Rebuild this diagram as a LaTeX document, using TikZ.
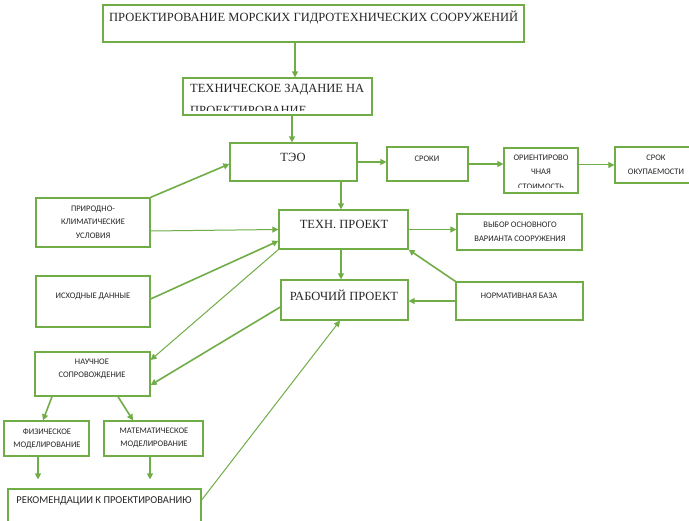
\documentclass[tikz,border=0pt]{standalone}
\usepackage{fontspec}
\setmainfont{Liberation Serif}
\newfontfamily\smallsans{Carlito}
\usetikzlibrary{arrows.meta,calc}
\definecolor{gr}{HTML}{70AD47}
\begin{document}
\begin{tikzpicture}[x=1pt,y=-1pt,
  box/.style={draw=gr, line width=1.3pt, fill=white, inner sep=0pt},
  arr/.style={draw=gr, line width=1.6pt, -{Triangle[length=6pt,width=6pt]}},
  thinarr/.style={arr, line width=1pt},
  ser/.style={font=\fontsize{12.5}{18}\selectfont, inner sep=0pt, text=black!85},
  sm/.style={font=\smallsans\fontsize{8.5}{13.5}\selectfont, inner sep=0pt, align=center, text=black!85},
  rk/.style={font=\smallsans\fontsize{10.5}{13}\selectfont, inner sep=0pt, text=black!85}]
\useasboundingbox (0,0) rectangle (689,521);
\fill[white] (0,0) rectangle (689,521);

% boxes
\node[box, minimum width=421pt, minimum height=37pt] (top) at (313.5,23.5) {};
\node[box, minimum width=189pt, minimum height=37pt] (tz) at (277.5,96.5) {};
\node[box, minimum width=127pt, minimum height=38pt] (teo) at (293.5,162) {};
\node[box, minimum width=81pt, minimum height=34pt] (sroki) at (427.5,164) {};
\node[box, minimum width=74pt, minimum height=45pt] (orient) at (541,170.5) {};
\node[box, minimum width=80pt, minimum height=36pt] (srok) at (655,165) {};
\node[box, minimum width=114pt, minimum height=49pt] (prirod) at (93,222.5) {};
\node[box, minimum width=114pt, minimum height=51pt] (iskhod) at (93,301.5) {};
\node[box, minimum width=129pt, minimum height=39pt] (texn) at (343.5,229.5) {};
\node[box, minimum width=127pt, minimum height=40pt] (rab) at (344.5,300) {};
\node[box, minimum width=125pt, minimum height=36pt] (vybor) at (519.5,232) {};
\node[box, minimum width=127pt, minimum height=38pt] (norm) at (519.5,301) {};
\node[box, minimum width=115pt, minimum height=44pt] (nauch) at (92.5,374) {};
\node[box, minimum width=85pt, minimum height=35pt] (fiz) at (46.5,438.5) {};
\node[box, minimum width=99pt, minimum height=35pt] (mat) at (153.5,438.5) {};
\node[box, minimum width=193pt, minimum height=34pt] (rek) at (104.5,506) {};

% texts
\node[ser, anchor=west] (ttop) at (109,18) {ПРОЕКТИРОВАНИЕ МОРСКИХ ГИДРОТЕХНИЧЕСКИХ СООРУЖЕНИЙ};
\begin{scope}
\clip (184,79) rectangle (371,110.8);
\node[ser, anchor=west] (ttz1) at (190,90) {ТЕХНИЧЕСКОЕ ЗАДАНИЕ НА};
\node[ser, anchor=west] (ttz2) at (190,110.5) {ПРОЕКТИРОВАНИЕ};
\end{scope}
\node[ser] (tteo) at (293,157) {ТЭО};
\node[ser] (ttexn) at (344,224) {ТЕХН. ПРОЕКТ};
\node[ser] (trab) at (344,295) {РАБОЧИЙ ПРОЕКТ};

\node[sm] (tsroki) at (427,159) {СРОКИ};
\begin{scope}
\clip (505,149) rectangle (577,187.3);
\node[sm, font=\smallsans\fontsize{8.5}{14.5}\selectfont, anchor=north] (torient) at (541,154.5) {ОРИЕНТИРОВО\\ЧНАЯ\\СТОИМОСТЬ};
\end{scope}
\node[sm] (tsrok) at (656,165) {СРОК\\ОКУПАЕМОСТИ};
\node[sm] (tprirod) at (93,222) {ПРИРОДНО-\\КЛИМАТИЧЕСКИЕ\\УСЛОВИЯ};
\node[sm] (tiskhod) at (93,296) {ИСХОДНЫЕ ДАННЫЕ};
\node[sm] (tvybor) at (520,232) {ВЫБОР ОСНОВНОГО\\ВАРИАНТА СООРУЖЕНИЯ};
\node[sm] (tnorm) at (519,296) {НОРМАТИВНАЯ БАЗА};
\node[sm] (tnauch) at (92,369) {НАУЧНОЕ\\СОПРОВОЖДЕНИЕ};
\node[sm] (tfiz) at (47,439) {ФИЗИЧЕСКОЕ\\МОДЕЛИРОВАНИЕ};
\node[sm] (tmat) at (154,438) {МАТЕМАТИЧЕСКОЕ\\МОДЕЛИРОВАНИЕ};
\node[rk] (trek) at (104,501) {РЕКОМЕНДАЦИИ К ПРОЕКТИРОВАНИЮ};

% connectors
\draw[arr] ([xshift=-18.5pt]top.south) -- ([xshift=-18.5pt]top.south |- tz.north);
\draw[arr] ([xshift=14.5pt]tz.south) -- ([xshift=14.5pt]tz.south |- teo.north);
\draw[arr] ([xshift=47.5pt]teo.south) -- ([xshift=47.5pt]teo.south |- texn.north);
\draw[arr] ([xshift=-2.5pt]texn.south) -- ([xshift=-2.5pt]texn.south |- rab.north);
\draw[arr] (teo.east) -- (teo.east -| sroki.west);
\draw[arr] (sroki.east) -- (sroki.east -| orient.west);
\draw[thinarr] (srok.west -| orient.east) -- (srok.west);
\draw[arr] (texn.east) -- (texn.east -| vybor.west);
\draw[arr] (norm.west) -- (norm.west -| rab.east);
\draw[arr] (norm.north west) -- (texn.south east);
\draw[arr] (prirod.north east) -- ([yshift=-2pt]teo.west);
\draw[thinarr] ([yshift=-8.5pt]prirod.east) -- (texn.west);
\draw[arr] ([yshift=2.5pt]iskhod.east) -- ([yshift=-11.5pt]texn.west);
\draw[thinarr] (texn.south west) -- ([yshift=14pt]nauch.east);
\draw[arr] ([yshift=-7pt]rab.west) -- ([yshift=-11pt]nauch.east);
\draw[arr] ([xshift=-40.5pt]nauch.south) -- ([xshift=-3.5pt]fiz.north);
\draw[arr] ([xshift=25.5pt]nauch.south) -- ([xshift=-20.5pt]mat.north);
\draw[arr, shorten >=9pt] ([xshift=-8.5pt]fiz.south) -- ([xshift=-8.5pt]fiz.south |- rek.north);
\draw[arr, shorten >=9pt] ([xshift=-3.5pt]mat.south) -- ([xshift=-3.5pt]mat.south |- rek.north);
\draw[thinarr] ([yshift=6pt]rek.east) -- ([xshift=-4.5pt]rab.south);
\end{tikzpicture}
\end{document}
